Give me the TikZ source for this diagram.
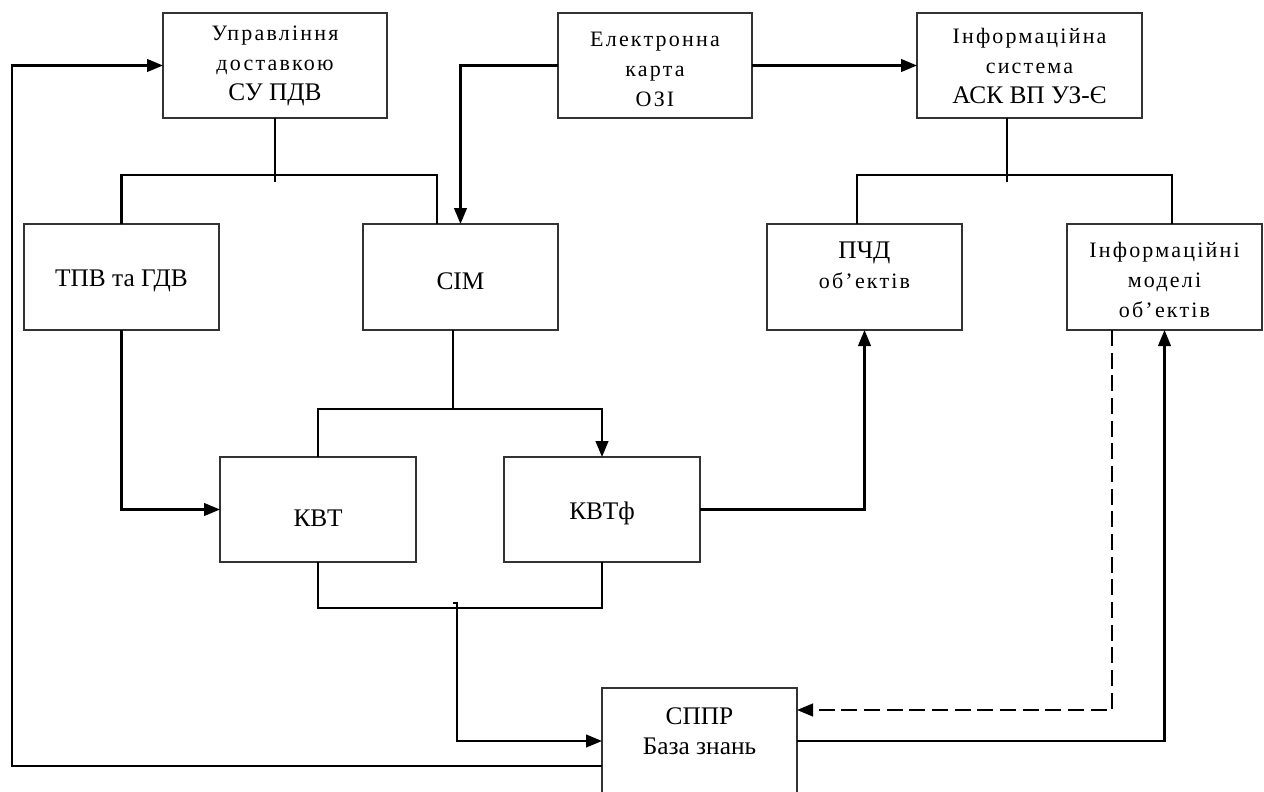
\documentclass[tikz,border=0pt]{standalone}
\usepackage{fontspec}
\setmainfont{Liberation Serif}
\newfontfamily\spacedfont{Liberation Serif}[LetterSpace=10]
\usetikzlibrary{arrows.meta,calc}
\newcommand{\smtxt}{\spacedfont\fontsize{16.5pt}{22.5pt}\selectfont}
\newcommand{\bgtxt}{\rmfamily\fontsize{19pt}{22.5pt}\selectfont}
\begin{document}
\begin{tikzpicture}[x=0.75pt,y=-0.75pt,
  box/.style={draw=black!80,line width=1.4pt,inner sep=0pt,outer sep=0pt,minimum width=146.25pt,minimum height=79.5pt},
  topbox/.style={box,minimum height=78.75pt},
  lbl/.style={align=center,inner sep=0pt,font=\smtxt},
  conn/.style={line width=1.6pt,black},
  arr/.style={conn,-{Triangle[length=12pt,width=9.5pt]}},
  dasharr/.style={arr,dash pattern=on 12pt off 5pt},
]
\useasboundingbox (0,0) rectangle (1264,792);
\fill[white] (0,0) rectangle (1264,792);

% boxes
\node[topbox,minimum width=168pt] (upr) at (275,65.5) {};
\node[topbox,minimum width=145.5pt] (ek) at (655,65.5) {};
\node[topbox,minimum width=168.75pt] (is) at (1029.5,65.5) {};
\node[box] (tpv) at (121.5,277) {};
\node[box] (sim) at (460.5,277) {};
\node[box] (pchd) at (864.5,277) {};
\node[box] (im) at (1164.5,277) {};
\node[box,minimum width=147pt,minimum height=78.75pt] (kvt) at (318,509.5) {};
\node[box,minimum width=147pt,minimum height=78.75pt] (kvtf) at (602,509.5) {};
\node[box] (sppr) at (699.5,741) {};

% texts
\node[lbl] (upr-t) at (275,65.5) {Управління\\доставкою\\{\bgtxt СУ ПДВ}};
\node[lbl] (ek-t) at (655,69) {Електронна\\карта\\ОЗІ};
\node[lbl] (is-t) at (1029.5,65.5) {Інформаційна\\система\\{\bgtxt АСК ВП УЗ-Є}};
\node[lbl,font=\bgtxt] (tpv-t) at (121.5,281) {ТПВ та ГДВ};
\node[lbl,font=\bgtxt] (sim-t) at (460.5,281) {СІМ};
\node[lbl] (pchd-t) at (864.5,265) {{\bgtxt ПЧД}\\об’ектів};
\node[lbl] (im-t) at (1164.5,280) {Інформаційні\\моделі\\об’ектів};
\node[lbl,font=\bgtxt] (kvt-t) at (318,518) {КВТ};
\node[lbl,font=\bgtxt] (kvtf-t) at (602,513) {КВТф};
\node[lbl,font=\bgtxt] (sppr-t) at (699.5,731) {СППР\\База знань};

% connectors
\coordinate (ub) at (275,175);
\draw[conn] (upr.south) -- ++(0,64);
\draw[conn] (tpv.north) |- (ub) -| ($(sim.north)+(-23.5,0)$);
\draw[arr] (ek.west) -| (sim.north);
\draw[arr] (ek.east) -- (is.west);

\coordinate (ib) at (1007,175);
\draw[conn] ($(is.south)+(-22.5,0)$) -- ++(0,64);
\draw[conn] ($(pchd.north)+(-7.5,0)$) |- (ib) -| ($(im.north)+(7.5,0)$);

\draw[arr] (tpv.south) |- (kvt.west);
\coordinate (sb) at (453,409);
\draw[conn] ($(sim.south)+(-7.5,0)$) -- (sb);
\draw[arr] (kvt.north) |- (sb) -| (kvtf.north);
\draw[arr] (kvtf.east) -| (pchd.south);

\draw[conn] (kvt.south) -- ++(0,46) -| (kvtf.south);
\coordinate (kt) at (453,603);
\draw[arr] (kt) -- ++(4,0) |- (sppr.west);

\draw[dasharr] ($(im.south)+(-52.5,0)$) |- ($(sppr.east)+(0,-31)$);
\draw[arr] (sppr.east) -| (im.south);
\draw[arr] ($(sppr.west)+(0,25)$) -- ++(-590,0) |- (upr.west);
\end{tikzpicture}
\end{document}
